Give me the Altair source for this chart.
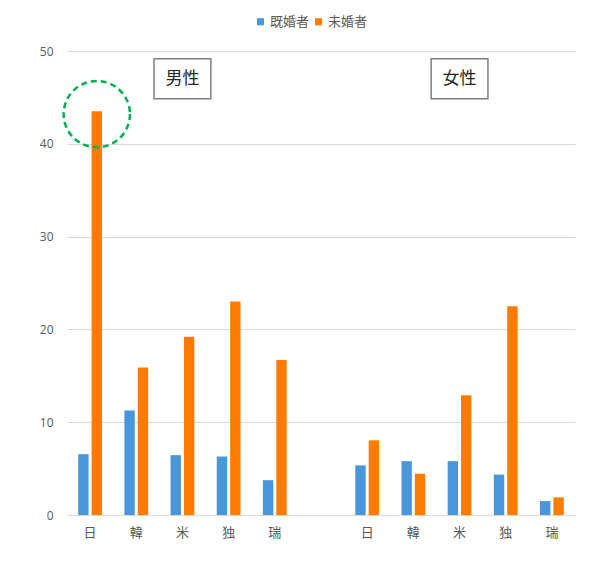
import altair as alt
import pandas as pd

keys = ["男-日", "男-韓", "男-米", "男-独", "男-瑞", "gap",
        "女-日", "女-韓", "女-米", "女-独", "女-瑞"]
series = ["既婚者", "未婚者"]
married = [6.55, 11.25, 6.45, 6.3, 3.75, None, 5.35, 5.8, 5.8, 4.35, 1.5]
unmarried = [43.5, 15.9, 19.2, 23.0, 16.7, None, 8.05, 4.45, 12.9, 22.5, 1.9]

rows = []
for k, m, u in zip(keys, married, unmarried):
    if m is not None:
        rows.append({"cat": k, "series": "既婚者", "value": m})
        rows.append({"cat": k, "series": "未婚者", "value": u})
df = pd.DataFrame(rows)

box_df = pd.DataFrame({"cat": ["男-米", "女-米"], "label": ["男性", "女性"], "y": [47.0, 47.0]})
circle_df = pd.DataFrame({"cat": ["男-日"], "series": ["未婚者"], "y": [43.2]})

FONT = "Noto Sans CJK JP"
colors = ["#4A96DA", "#FF7C00"]

xscale = alt.Scale(domain=keys, paddingInner=0.485, paddingOuter=0.2425)
yscale = alt.Scale(domain=[0, 50])

x_enc = alt.X("cat:N", scale=xscale, sort=keys,
              axis=alt.Axis(title=None, labelAngle=0, ticks=False, domain=False,
                            labelExpr="datum.label == 'gap' ? '' : split(datum.label, '-')[1]",
                            labelFont=FONT, labelFontSize=13, labelColor="#595959",
                            labelPadding=11, grid=False))

bars = alt.Chart(df).mark_bar().encode(
    x=x_enc,
    xOffset=alt.XOffset("series:N", sort=series, scale=alt.Scale(paddingInner=0.224)),
    y=alt.Y("value:Q", scale=yscale,
            axis=alt.Axis(title=None, values=[0, 10, 20, 30, 40, 50], ticks=False, domain=False,
                          gridColor="#D9D9D9", labelColor="#595959", labelFontSize=12,
                          labelFont="Open Sans", labelPadding=14)),
    color=alt.Color("series:N", sort=series,
                    scale=alt.Scale(domain=series, range=colors),
                    legend=alt.Legend(title=None, orient="none", direction="horizontal",
                                      legendX=187, legendY=-36, symbolType="square",
                                      symbolSize=50, labelFont=FONT, labelFontSize=13,
                                      labelColor="#595959", columnPadding=2,
                                      symbolStrokeWidth=0, labelOffset=3)),
)

boxes = alt.Chart(box_df).mark_point(
    shape="M-1.42,-1L1.42,-1L1.42,1L-1.42,1Z", size=1600, filled=False,
    stroke="#7F7F7F", strokeWidth=1.5, opacity=1
).encode(x=alt.X("cat:N", scale=xscale, sort=keys), y=alt.Y("y:Q", scale=yscale))

texts = alt.Chart(box_df).mark_text(font=FONT, fontSize=17, color="#262626", baseline="middle").encode(
    x=alt.X("cat:N", scale=xscale, sort=keys), y=alt.Y("y:Q", scale=yscale), text="label:N")

circle = alt.Chart(circle_df).mark_point(
    shape="circle", size=4400, filled=False, stroke="#00B050", strokeWidth=2.5,
    strokeDash=[6, 4], opacity=1
).encode(x=alt.X("cat:N", scale=xscale, sort=keys),
         xOffset=alt.XOffset("series:N", sort=series, scale=alt.Scale(paddingInner=0.224)),
         y=alt.Y("y:Q", scale=yscale))

chart = alt.layer(bars, boxes, texts, circle).properties(
    width=508, height=464,
    autosize=alt.AutoSizeParams(type="none"),
    padding={"left": 59, "top": 43, "right": 20, "bottom": 38},
).configure_view(stroke=None).configure_legend(padding=0)

chart.save("out.html", embed_options={"renderer": "svg", "actions": False})
